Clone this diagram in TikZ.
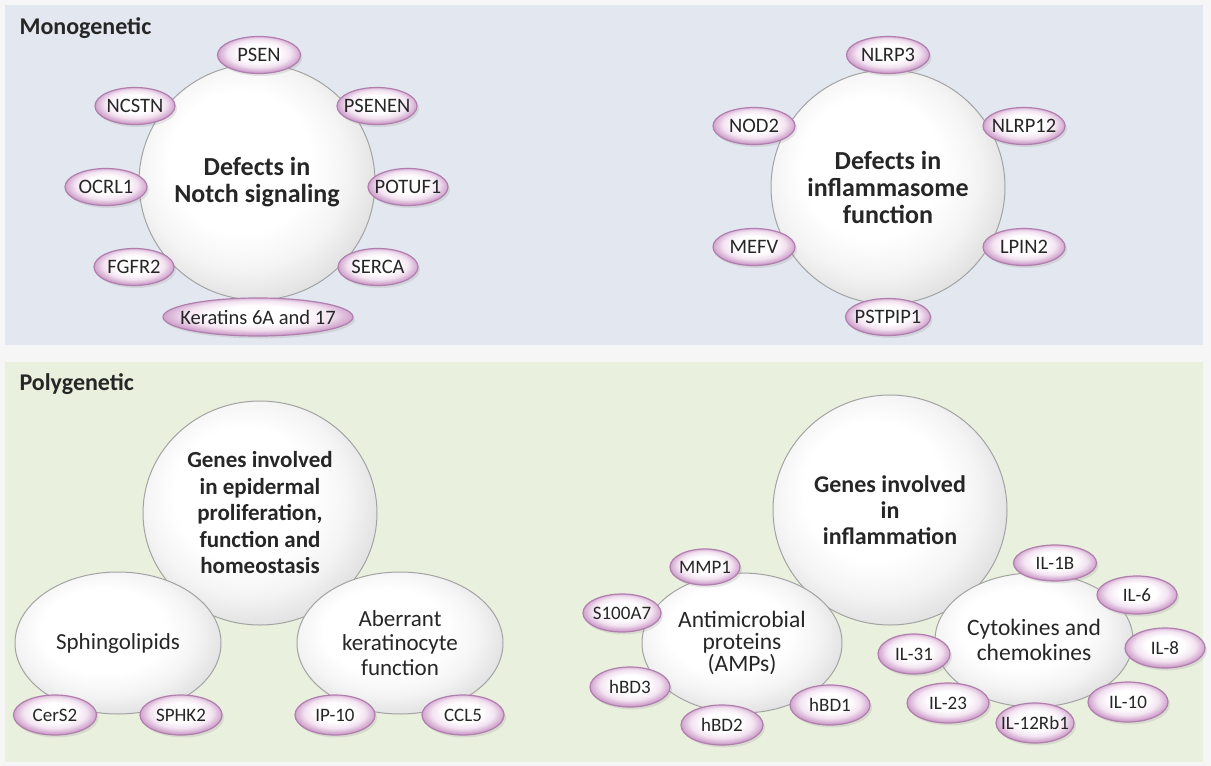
\documentclass[tikz,border=0pt]{standalone}
\usepackage{fontspec}
\setmainfont{Carlito}
\usetikzlibrary{shapes.geometric,shadows}

\definecolor{monobg}{HTML}{E3E7EF}
\definecolor{polybg}{HTML}{EAF0DE}
\definecolor{pagebg}{HTML}{F6F6F6}
\definecolor{ballmid}{HTML}{F4F4F4}
\definecolor{ballrim}{HTML}{E2E2E2}
\definecolor{balldark}{HTML}{C8C8C8}
\definecolor{ballline}{HTML}{A3A3A3}
\definecolor{genemid}{HTML}{F3E4F1}
\definecolor{generim}{HTML}{CB98C8}
\definecolor{geneline}{HTML}{B07FAE}
\definecolor{inktext}{HTML}{262626}

\pgfdeclareradialshading{ballshade}{\pgfpoint{-5bp}{6bp}}{color(0bp)=(white); color(15bp)=(white); color(22bp)=(ballmid); color(28bp)=(ballrim); color(36bp)=(balldark); color(50bp)=(balldark)}
\pgfdeclareradialshading{geneshade}{\pgfpoint{0bp}{4bp}}{color(0bp)=(white); color(12bp)=(white); color(19bp)=(genemid); color(26bp)=(generim); color(50bp)=(generim)}

\begin{document}
\begin{tikzpicture}[x=1pt, y=-1pt, text=inktext,
    ball/.style={ellipse, draw=ballline, line width=1pt, shading=ballshade, inner sep=-12pt, align=center},
    gene/.style={ellipse, draw=geneline, line width=1.2pt, shading=geneshade, minimum width=#1, minimum height=37, inner sep=-12pt, font=\fontsize{20.5}{24}\selectfont, drop shadow={opacity=.18, shadow xshift=2pt, shadow yshift=-2.5pt}},
    gene/.default=80,
    polygene/.style={gene=#1, minimum height=40, font=\fontsize{19}{22}\selectfont},
    polygene/.default=80]
  \useasboundingbox (0,0) rectangle (1211,766);
  % panels
  \fill[pagebg] (0,0) rectangle (1211,766);
  \fill[monobg] (5,5) rectangle (1203,345);
  \fill[polybg] (5,362) rectangle (1203,762);
  \node[anchor=west, font=\bfseries\fontsize{24}{28}\selectfont] (mono) at (16,28) {Monogenetic};
  \node[anchor=west, font=\bfseries\fontsize{24}{28}\selectfont] (poly) at (16,384) {Polygenetic};

  % Notch
  \node[ball, minimum width=236, minimum height=236, font=\bfseries\fontsize{26}{27}\selectfont] (notch) at (257,182) {Defects in\\Notch signaling};
  \node[gene=83] (psen) at (259,55) {PSEN};
  \node[gene] (ncstn) at (135,106) {NCSTN};
  \node[gene] (psenen) at (377,106) {PSENEN};
  \node[gene=82] (ocrl) at (106,187) {OCRL1};
  \node[gene] (potuf) at (408,187) {POTUF1};
  \node[gene] (fgfr) at (134,267) {FGFR2};
  \node[gene] (serca) at (378,267) {SERCA};
  \node[gene=190, minimum height=38] (krt) at (258,317) {Keratins 6A and 17};

  % inflammasome
  \node[ball, minimum width=234, minimum height=234, font=\bfseries\fontsize{26}{27}\selectfont] (inflsome) at (888,187) {Defects in\\inflammasome\\function};
  \node[gene=83] (nlrpthree) at (888,55) {NLRP3};
  \node[gene=82] (nod) at (754,126) {NOD2};
  \node[gene=82] (nlrptwelve) at (1024,126) {NLRP12};
  \node[gene=82] (mefv) at (754,247) {MEFV};
  \node[gene=82] (lpin) at (1024,247) {LPIN2};
  \node[gene=85] (pstpip) at (888,317) {PSTPIP1};

  % epidermis
  \node[ball, minimum width=234, minimum height=224, font=\bfseries\fontsize{23}{26.5}\selectfont] (epid) at (260,513) {Genes involved\\in epidermal\\proliferation,\\function and\\homeostasis};
  \node[ball, minimum width=206, minimum height=142, font=\fontsize{23}{24.5}\selectfont] (sphingo) at (118,643) {Sphingolipids};
  \node[ball, minimum width=206, minimum height=142, font=\fontsize{23}{24.5}\selectfont] (aberr) at (400,643) {Aberrant\\keratinocyte\\function};
  \node[polygene=83] (cers) at (55,715) {CerS2};
  \node[polygene=82] (sphk) at (181,715) {SPHK2};
  \node[polygene] (ipten) at (335,715) {IP-10};
  \node[polygene=82] (ccl) at (463,715) {CCL5};

  % inflammation
  \node[ball, minimum width=234, minimum height=230, font=\bfseries\fontsize{24}{26}\selectfont] (inflgenes) at (890,510) {Genes involved\\in\\inflammation};
  \node[ball, minimum width=200, minimum height=140, font=\fontsize{23.5}{22}\selectfont] (amp) at (742,643) {Antimicrobial\\proteins\\(AMPs)};
  \node[ball, minimum width=198, minimum height=134, font=\fontsize{23.5}{25}\selectfont] (cyto) at (1034,640) {Cytokines and\\chemokines};
  \node[polygene=70, minimum height=36] (mmp) at (705,567) {MMP1};
  \node[polygene=78, minimum height=38] (sahun) at (622,613) {S100A7};
  \node[polygene] (hbdthree) at (630,687) {hBD3};
  \node[polygene=82] (hbdtwo) at (722,725) {hBD2};
  \node[polygene] (hbdone) at (830,705) {hBD1};
  \node[polygene=83, minimum height=36] (ilone) at (1055,563) {IL-1B};
  \node[polygene, minimum height=38] (ilsix) at (1137,595) {IL-6};
  \node[polygene] (ileight) at (1165,648) {IL-8};
  \node[polygene] (ilten) at (1128,702) {IL-10};
  \node[polygene=78] (iltwelve) at (1035,723) {IL-12Rb1};
  \node[polygene=82] (iltwentythree) at (948,703) {IL-23};
  \node[polygene=72] (ilthirtyone) at (914,654) {IL-31};
\end{tikzpicture}
\end{document}
